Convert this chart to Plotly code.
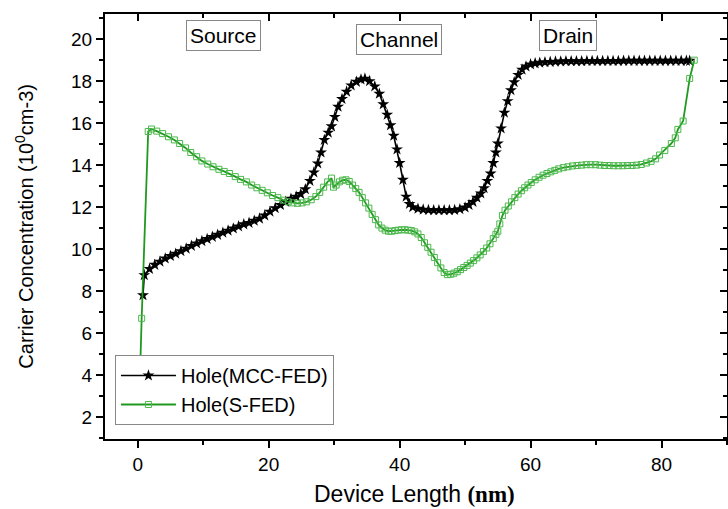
import plotly.graph_objects as go

# Hole(MCC-FED) - black stars
mcc_x = [0.8, 1.0, 1.8, 2.6, 3.4, 4.2, 5.0, 5.8, 6.6, 7.4, 8.2, 9.0, 9.8, 10.6, 11.4, 12.2,
         13.0, 13.8, 14.6, 15.4, 16.2, 17.0, 17.8, 18.6, 19.4, 20.2, 21.0, 21.8, 22.6, 23.4,
         24.2, 24.9, 25.6, 26.3, 26.9, 27.5, 28.0, 28.5, 29.1, 29.6, 30.1, 30.6, 31.2, 31.9,
         32.6, 33.4, 34.1, 34.7, 35.4, 36.2, 36.9, 37.5, 38.1, 38.6, 39.1, 39.6, 40.0, 40.5,
         41.0, 41.5, 42.0, 42.8, 43.6, 44.4, 45.2, 46.0, 46.8, 47.6, 48.4, 49.2, 50.0, 50.6,
         51.2, 51.8, 52.4, 52.9, 53.4, 53.9, 54.3, 54.7, 55.0, 55.5, 56.0, 56.5, 57.0, 57.5,
         58.1, 58.7, 59.3, 60.0, 60.7, 61.4, 62.2, 63.0, 63.8, 64.6, 65.4, 66.2, 67.0, 67.8,
         68.6, 69.4, 70.2, 71.0, 71.8, 72.6, 73.4, 74.2, 75.0, 75.8, 76.6, 77.4, 78.2, 79.0,
         79.8, 80.6, 81.4, 82.2, 83.0, 83.8, 84.3]
mcc_y = [7.8, 8.76, 9.05, 9.25, 9.4, 9.55, 9.67, 9.78, 9.9, 10.02, 10.15, 10.27, 10.38, 10.48,
         10.58, 10.68, 10.78, 10.88, 10.98, 11.08, 11.18, 11.25, 11.35, 11.45, 11.6, 11.78,
         11.95, 12.1, 12.25, 12.4, 12.5, 12.62, 12.85, 13.25, 13.65, 14.08, 14.6, 15.2, 15.55,
         15.85, 16.3, 16.78, 17.15, 17.5, 17.8, 17.97, 18.08, 18.12, 18.0, 17.75, 17.4, 16.9,
         16.4, 15.9, 15.4, 14.75, 14.1, 13.3, 12.5, 12.15, 12.0, 11.92, 11.88, 11.86, 11.85,
         11.85, 11.85, 11.85, 11.86, 11.9, 11.98, 12.1, 12.25, 12.45, 12.65, 12.9, 13.25, 13.6,
         14.1, 14.6, 15.03, 15.75, 16.5, 17.05, 17.57, 17.95, 18.3, 18.55, 18.7, 18.8, 18.85,
         18.88, 18.9, 18.92, 18.93, 18.94, 18.95, 18.95, 18.95, 18.95, 18.96, 18.96, 18.96,
         18.96, 18.96, 18.96, 18.96, 18.97, 18.97, 18.97, 18.97, 18.97, 18.97, 18.97, 18.97,
         18.97, 18.97, 18.97, 18.97, 18.97, 18.97, 18.97, 18.97]

# Hole(S-FED) - green open squares
sfed_x = [0.2, 0.6, 1.6, 2.1, 2.9, 3.8, 4.7, 5.6, 6.4, 7.3, 8.1, 9.0, 9.8, 10.7, 11.5, 12.4,
          13.2, 14.0, 14.9, 15.7, 16.6, 17.4, 18.2, 19.0, 19.8, 20.6, 21.4, 22.2, 23.0, 23.7,
          24.4, 25.1, 25.8, 26.5, 27.2, 27.8, 28.4, 29.0, 29.6, 29.9, 30.3, 30.8, 31.3, 31.8,
          32.3, 32.8, 33.3, 33.8, 34.3, 34.8, 35.3, 35.8, 36.3, 36.8, 37.3, 37.8, 38.3, 38.8,
          39.3, 39.8, 40.3, 40.8, 41.3, 41.8, 42.3, 42.8, 43.3, 43.8, 44.3, 44.8, 45.3, 45.8,
          46.3, 46.8, 47.3, 47.8, 48.3, 48.8, 49.3, 49.8, 50.3, 50.8, 51.3, 51.8, 52.3, 52.8,
          53.3, 53.8, 54.3, 54.7, 55.0, 55.3, 55.7, 56.1, 56.6, 57.1, 57.6, 58.1, 58.6, 59.1,
          59.6, 60.1, 60.7, 61.3, 61.9, 62.5, 63.1, 63.7, 64.3, 65.0, 65.7, 66.4, 67.1, 67.8,
          68.5, 69.2, 69.9, 70.6, 71.3, 72.0, 72.7, 73.4, 74.1, 74.8, 75.5, 76.2, 76.9, 77.7,
          78.4, 79.1, 79.7, 80.5, 81.5, 82.1, 82.5, 83.3, 84.3, 85.0]
sfed_y = [2.5, 6.7, 15.6, 15.72, 15.62, 15.5, 15.35, 15.2, 15.03, 14.82, 14.6, 14.4, 14.2, 14.05,
          13.92, 13.8, 13.7, 13.6, 13.45, 13.32, 13.2, 13.05, 12.92, 12.8, 12.68, 12.55, 12.45,
          12.33, 12.25, 12.2, 12.18, 12.2, 12.25, 12.35, 12.5, 12.7, 12.95, 13.2, 13.38, 12.95,
          13.05, 13.2, 13.28, 13.3, 13.22, 13.05, 12.88, 12.7, 12.45, 12.2, 11.95, 11.65, 11.4,
          11.15, 11.0, 10.9, 10.85, 10.85, 10.88, 10.9, 10.92, 10.92, 10.9, 10.88, 10.82, 10.72,
          10.55, 10.3, 10.08, 9.85, 9.6, 9.35, 9.1, 8.88, 8.78, 8.8, 8.85, 8.92, 9.02, 9.12, 9.22,
          9.33, 9.45, 9.58, 9.72, 9.88, 10.05, 10.25, 10.5, 10.7, 10.85, 11.2, 11.6, 11.85, 12.05,
          12.25, 12.45, 12.62, 12.78, 12.92, 13.05, 13.17, 13.3, 13.42, 13.52, 13.6, 13.68,
          13.75, 13.82, 13.88, 13.92, 13.96, 13.98, 14.0, 14.02, 14.02, 14.02, 14.0, 13.98,
          13.98, 13.97, 13.97, 13.97, 13.98, 13.98, 14.0, 14.03, 14.1, 14.18, 14.3, 14.48, 14.7,
          15.03, 15.3, 15.7, 16.1, 18.13, 19.0]

x_ticks = [0, 20, 40, 60, 80]
y_ticks = [2, 4, 6, 8, 10, 12, 14, 16, 18, 20]
x_range = [-5, 90]
y_range = [0.95, 21.2]

regions = ["Source", "Channel", "Drain"]
region_x = [13.05, 39.9, 65.7]
region_y = [20.17, 19.98, 20.17]

FONT = "Liberation Sans, Arial, sans-serif"

fig = go.Figure()
fig.add_trace(go.Scatter(
    x=mcc_x, y=mcc_y, mode="lines+markers", name="Hole(MCC-FED)",
    line=dict(color="black", width=1.6),
    marker=dict(symbol="star", size=9, color="black"),
))
fig.add_trace(go.Scatter(
    x=sfed_x, y=sfed_y, mode="lines+markers", name="Hole(S-FED)",
    line=dict(color="#1f9a1f", width=1.8),
    marker=dict(symbol="square-open", size=6, color="#4cb84c", line=dict(width=1)),
))
# invisible trace for mirrored inside-tick axes
fig.add_trace(go.Scatter(x=x_range, y=y_range, xaxis="x2", yaxis="y2", mode="markers",
                         marker=dict(opacity=0), showlegend=False, hoverinfo="skip"))

axis_common = dict(showgrid=False, zeroline=False, linecolor="black", linewidth=2,
                   tickcolor="black", tickwidth=2, ticklen=7)

fig.update_layout(
    width=728, height=509,
    margin=dict(l=105, r=1, t=14, b=70),
    paper_bgcolor="white", plot_bgcolor="white",
    font=dict(family=FONT, color="black", size=19),
    xaxis=dict(range=x_range, tickvals=x_ticks, ticks="outside", showline=True,
               minor=dict(dtick=10, tick0=0, ticks="outside", ticklen=4, tickwidth=2, tickcolor="black"),
               tickfont=dict(size=19), **axis_common),
    yaxis=dict(range=y_range, tickvals=y_ticks, ticks="outside", showline=True,
               minor=dict(dtick=1, tick0=0, ticks="outside", ticklen=4, tickwidth=2, tickcolor="black"),
               tickfont=dict(size=19), **axis_common),
    xaxis2=dict(range=x_range, overlaying="x", side="top", anchor="y2", tickvals=x_ticks,
                ticks="inside", showticklabels=False, showline=True,
                minor=dict(dtick=10, tick0=0, ticks="inside", ticklen=4, tickwidth=2, tickcolor="black"),
                **axis_common),
    yaxis2=dict(range=y_range, overlaying="y", side="right", anchor="x2", tickvals=y_ticks,
                ticks="inside", showticklabels=False, showline=True,
                minor=dict(dtick=1, tick0=0, ticks="inside", ticklen=4, tickwidth=2, tickcolor="black"),
                **axis_common),
    showlegend=True,
    legend=dict(x=0.016, y=0.033, xanchor="left", yanchor="bottom",
                bgcolor="white", bordercolor="#888888", borderwidth=1,
                font=dict(size=20, family=FONT), itemwidth=55, tracegroupgap=0),
)

for name, rx, ry in zip(regions, region_x, region_y):
    fig.add_annotation(x=rx, y=ry, xref="x", yref="y", text=name, showarrow=False,
                       font=dict(size=21, family=FONT), bordercolor="#888888", borderwidth=1,
                       borderpad=3, bgcolor="white")

fig.add_annotation(xref="paper", yref="paper", x=-0.13, y=0.50, textangle=-90,
                   text="Carrier Concentration (10<sup>0</sup>cm-3)", showarrow=False,
                   font=dict(size=20, family=FONT), xanchor="center", yanchor="middle")
fig.add_annotation(xref="paper", yref="paper", x=(414 - 105) / 622, y=(439 - 494) / 425,
                   text="Device Length <span style='font-family:Liberation Serif, serif'><b>(nm)</b></span>",
                   showarrow=False, font=dict(size=23, family=FONT),
                   xanchor="center", yanchor="middle")

fig.write_html("out.html")
